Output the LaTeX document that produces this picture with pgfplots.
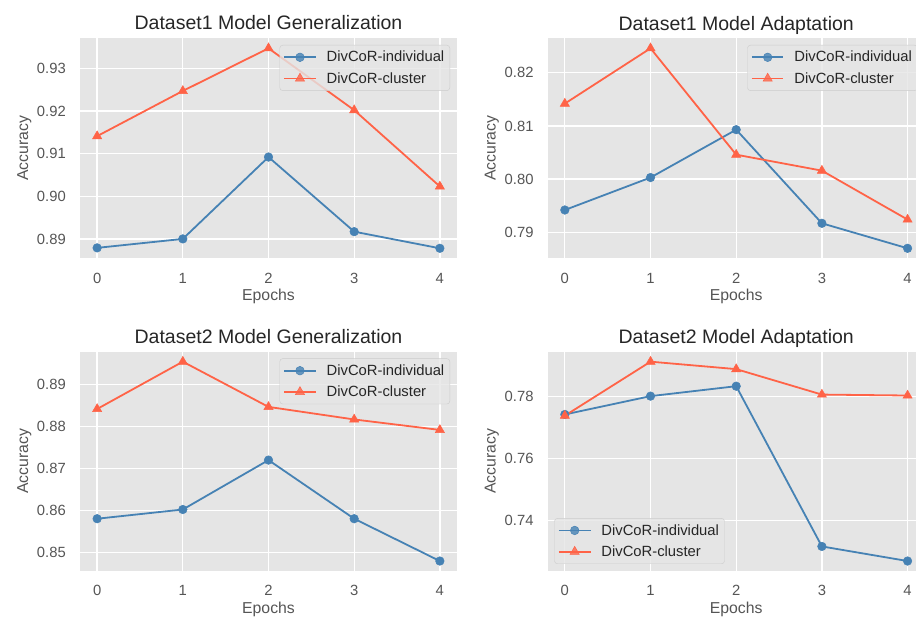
\documentclass[border=0pt]{standalone}
\usepackage{fontspec}
\setmainfont{Liberation Sans}
\usepackage{pgfplots}
\pgfplotsset{compat=1.18}
\definecolor{ggbg}{HTML}{E5E5E5}
\definecolor{ggtext}{HTML}{555555}
\definecolor{ggdark}{HTML}{262626}
\definecolor{indc}{HTML}{4682B4}
\definecolor{cluc}{HTML}{FF6347}
\definecolor{legedge}{HTML}{CCCCCC}
\pgfplotsset{
  every axis title shift=0pt,
  ggstyle/.style={
    scale only axis, width=377pt, height=220pt, anchor=south west,
    axis background/.style={fill=ggbg},
    axis line style={draw=none},
    major tick length=0pt,
    grid=major, grid style={white, line width=1.3pt},
    xmin=-0.2, xmax=4.2, xtick={0,1,2,3,4},
    enlarge y limits=0.05, scaled y ticks=false,
    /pgf/number format/assume math mode=true,
    ticklabel style={font=\fontsize{14.8}{17}\selectfont, text=ggtext},
    yticklabel style={anchor=east, inner sep=0pt, xshift=-14pt,
      /pgf/number format/fixed, /pgf/number format/fixed zerofill, /pgf/number format/precision=2},
    xticklabel style={anchor=north, inner sep=0pt, yshift=-14.4pt},
    title style={font=\fontsize{19.5}{23}\selectfont, text=ggdark, at={(axis description cs:0.5,1.0377)}, anchor=base},
    xlabel style={font=\fontsize{15.8}{19}\selectfont, text=ggtext, at={(axis description cs:0.5,-0.194)}, anchor=base},
    ylabel style={font=\fontsize{15.8}{19}\selectfont, text=ggtext, at={(axis description cs:-0.1379,0.5)}, anchor=base},
    xlabel={Epochs}, ylabel={Accuracy},
    legend cell align=left,
    legend style={fill=ggbg, fill opacity=0.8, text opacity=1, draw=legedge, rounded corners=3pt,
      font=\fontsize{14.8}{17}\selectfont, text=ggdark, inner xsep=3.5pt, inner ysep=4pt,
      row sep=5pt, column sep=8pt},
    legend image code/.code={\draw[mark repeat=2,mark phase=2,#1] plot coordinates {(0pt,0pt) (15.8pt,0pt) (31.6pt,0pt)};},
    legtr/.style={legend style={at={(1,1)}, anchor=north east, xshift=-7pt, yshift=-6.7pt}},
    indstyle/.style={color=indc, line width=1.8pt, mark=*, mark size=4.3pt, mark options={line width=0.5pt}},
    clustyle/.style={color=cluc, line width=1.8pt, mark=triangle*, mark size=5.3pt, mark options={line width=0.5pt}},
  }
}
\begin{document}
\begin{tikzpicture}
\useasboundingbox (0,0) rectangle (916pt,618pt);
% Plot 1
\begin{axis}[ggstyle, at={(80pt,359.7pt)}, title={Dataset1 Model Generalization},
  ytick={0.89,0.90,0.91,0.92,0.93}, legtr]
\addplot[indstyle] coordinates {(0,0.8879) (1,0.8900) (2,0.9092) (3,0.8917) (4,0.8878)};
\addplot[clustyle] coordinates {(0,0.9141) (1,0.9247) (2,0.9347) (3,0.9202) (4,0.9023)};
\legend{DivCoR-individual, DivCoR-cluster}
\end{axis}
% Plot 2
\begin{axis}[ggstyle, at={(547.7pt,359.7pt)}, title={Dataset1 Model Adaptation},
  ytick={0.79,0.80,0.81,0.82}, legtr]
\addplot[indstyle] coordinates {(0,0.7942) (1,0.8003) (2,0.8093) (3,0.7917) (4,0.7870)};
\addplot[clustyle] coordinates {(0,0.8142) (1,0.8246) (2,0.8046) (3,0.8016) (4,0.7924)};
\legend{DivCoR-individual, DivCoR-cluster}
\end{axis}
% Plot 3
\begin{axis}[ggstyle, at={(80pt,47pt)}, height=219.3pt, title={Dataset2 Model Generalization},
  ytick={0.85,0.86,0.87,0.88,0.89}, legtr]
\addplot[indstyle] coordinates {(0,0.8580) (1,0.8602) (2,0.8720) (3,0.8580) (4,0.8479)};
\addplot[clustyle] coordinates {(0,0.8842) (1,0.8955) (2,0.8847) (3,0.8817) (4,0.8792)};
\legend{DivCoR-individual, DivCoR-cluster}
\end{axis}
% Plot 4
\begin{axis}[ggstyle, at={(547.7pt,47pt)}, height=219.3pt, title={Dataset2 Model Adaptation},
  ytick={0.74,0.76,0.78},
  legend style={at={(0,0)}, anchor=south west, xshift=6.6pt, yshift=7pt}]
\addplot[indstyle] coordinates {(0,0.7742) (1,0.7801) (2,0.7833) (3,0.7317) (4,0.7270)};
\addplot[clustyle] coordinates {(0,0.7738) (1,0.7912) (2,0.7888) (3,0.7806) (4,0.7803)};
\legend{DivCoR-individual, DivCoR-cluster}
\end{axis}
\end{tikzpicture}
\end{document}
